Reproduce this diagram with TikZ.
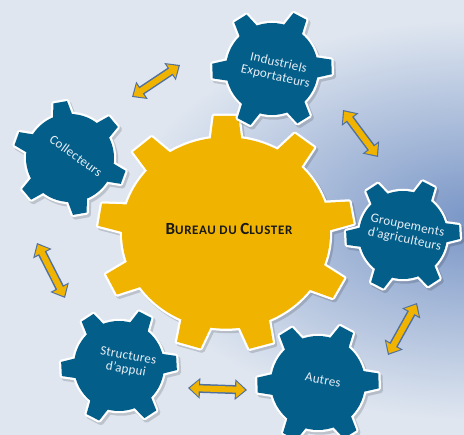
\documentclass[tikz,border=0pt]{standalone}
\usepackage{fontspec}
\setmainfont{Carlito}
\usetikzlibrary{arrows.meta}

\definecolor{fondoclaro}{HTML}{DFE6F0}
\definecolor{fondooscuro}{HTML}{7895C6}
\definecolor{azulrueda}{HTML}{035F8A}
\definecolor{amarillo}{HTML}{F0B400}
\definecolor{bordeflecha}{HTML}{50709F}
\definecolor{textorueda}{HTML}{E8EEF6}

\tikzset{
  diente/.style={line width=4.5pt, line join=round},
  etiqueta/.style={text=textorueda, align=center, inner sep=0pt, font=\fontsize{13}{14}\selectfont\addfontfeature{LetterSpace=2}},
  flechaborde/.style={draw=bordeflecha, line width=9pt, {Triangle[length=12pt,width=20pt]}-{Triangle[length=12pt,width=20pt]}},
  flecharelleno/.style={draw=amarillo, line width=6pt, shorten <=1.8pt, shorten >=1.8pt, {Triangle[length=9pt,width=15.5pt]}-{Triangle[length=9pt,width=15.5pt]}}
}

% Rueda dentada: centro, angulos, radio, radio exterior, medio angulo base, medio angulo punta, color, escala y
\newcommand{\rueda}[8]{%
  \begin{scope}[shift={(#1)}, yscale=#8]
    % sombra
    \begin{scope}[shift={(2,-2.5)}, transparency group, opacity=0.15]
      \foreach \a in {#2}
        \filldraw[black, diente] (\a-#5:#3-4) -- (\a-#6:#4) -- (\a+#6:#4) -- (\a+#5:#3-4) -- cycle;
      \filldraw[black, diente] (0,0) circle (#3);
    \end{scope}
    % contorno blanco
    \foreach \a in {#2}
      \filldraw[fill=#7, draw=white, diente] (\a-#5:#3-4) -- (\a-#6:#4) -- (\a+#6:#4) -- (\a+#5:#3-4) -- cycle;
    \filldraw[fill=#7, draw=white, diente] (0,0) circle (#3);
    % relleno
    \foreach \a in {#2}
      \fill[#7] (\a-#5:#3-4) -- (\a-#6:#4) -- (\a+#6:#4) -- (\a+#5:#3-4) -- cycle;
    \fill[#7] (0,0) circle (#3);
  \end{scope}}

\begin{document}
\begin{tikzpicture}[x=1pt, y=1pt]
  \useasboundingbox (0,0) rectangle (464,435);
  \clip (0,0) rectangle (464,435);

  % Fondo
  \fill[fondoclaro] (0,0) rectangle (464,435);
  \shade[inner color=fondooscuro, outer color=fondoclaro] (475,215) ellipse (350 and 200);

  % Centros
  \coordinate (cbur) at (226,202);
  \coordinate (cind) at (272,366);
  \coordinate (ccol) at (70,277);
  \coordinate (cgrp) at (403,200);
  \coordinate (cstr) at (119,69);
  \coordinate (caut) at (318,52);

  % Engranajes
  \rueda{cbur}{10,52,90,131,171,206,253,286,332}{104}{128}{9}{5.5}{amarillo}{0.92}
  \rueda{cind}{2,62,...,302}{46}{60}{15}{7}{azulrueda}{1}
  \rueda{ccol}{40,100,...,340}{44}{57}{15}{7}{azulrueda}{1}
  \rueda{cgrp}{3,63,...,303}{44}{57}{15}{7}{azulrueda}{1}
  \rueda{cstr}{3,63,...,303}{45}{58}{15}{7}{azulrueda}{1}
  \rueda{caut}{2,62,...,302}{47}{61}{15}{7}{azulrueda}{1}

  % Textos
  \node[font=\bfseries\fontsize{13}{13}\selectfont\addfontfeature{LetterSpace=5}, text=black!90] (bur) at (229,206)
    {{\fontsize{17}{17}\selectfont B}UREAU DU {\fontsize{17}{17}\selectfont C}LUSTER};
  \node[etiqueta, rotate=-13] (ind) at (277,365) {Industriels\\Exportateurs};
  \node[etiqueta, rotate=-36] (col) at (76,279) {Collecteurs};
  \node[etiqueta, rotate=-12] (grp) at (406,202) {Groupements\\d’agriculteurs};
  \node[etiqueta, rotate=-10] (str) at (127,72) {Structures\\d’appui};
  \node[etiqueta, rotate=-10] (aut) at (323,55) {Autres};

  % Flechas
  \coordinate (f1a) at (132,338); \coordinate (f1b) at (180,370);
  \coordinate (f2a) at (343,325); \coordinate (f2b) at (378,278);
  \coordinate (f3a) at (417,132); \coordinate (f3b) at (388,80);
  \coordinate (f4a) at (188,47);  \coordinate (f4b) at (247,45);
  \coordinate (f5a) at (37,192);  \coordinate (f5b) at (65,137);
  \foreach \p/\q in {f1a/f1b, f2a/f2b, f3a/f3b, f4a/f4b, f5a/f5b} {
    \draw[flechaborde] (\p) -- (\q);
    \draw[flecharelleno] (\p) -- (\q);
  }
\end{tikzpicture}
\end{document}
